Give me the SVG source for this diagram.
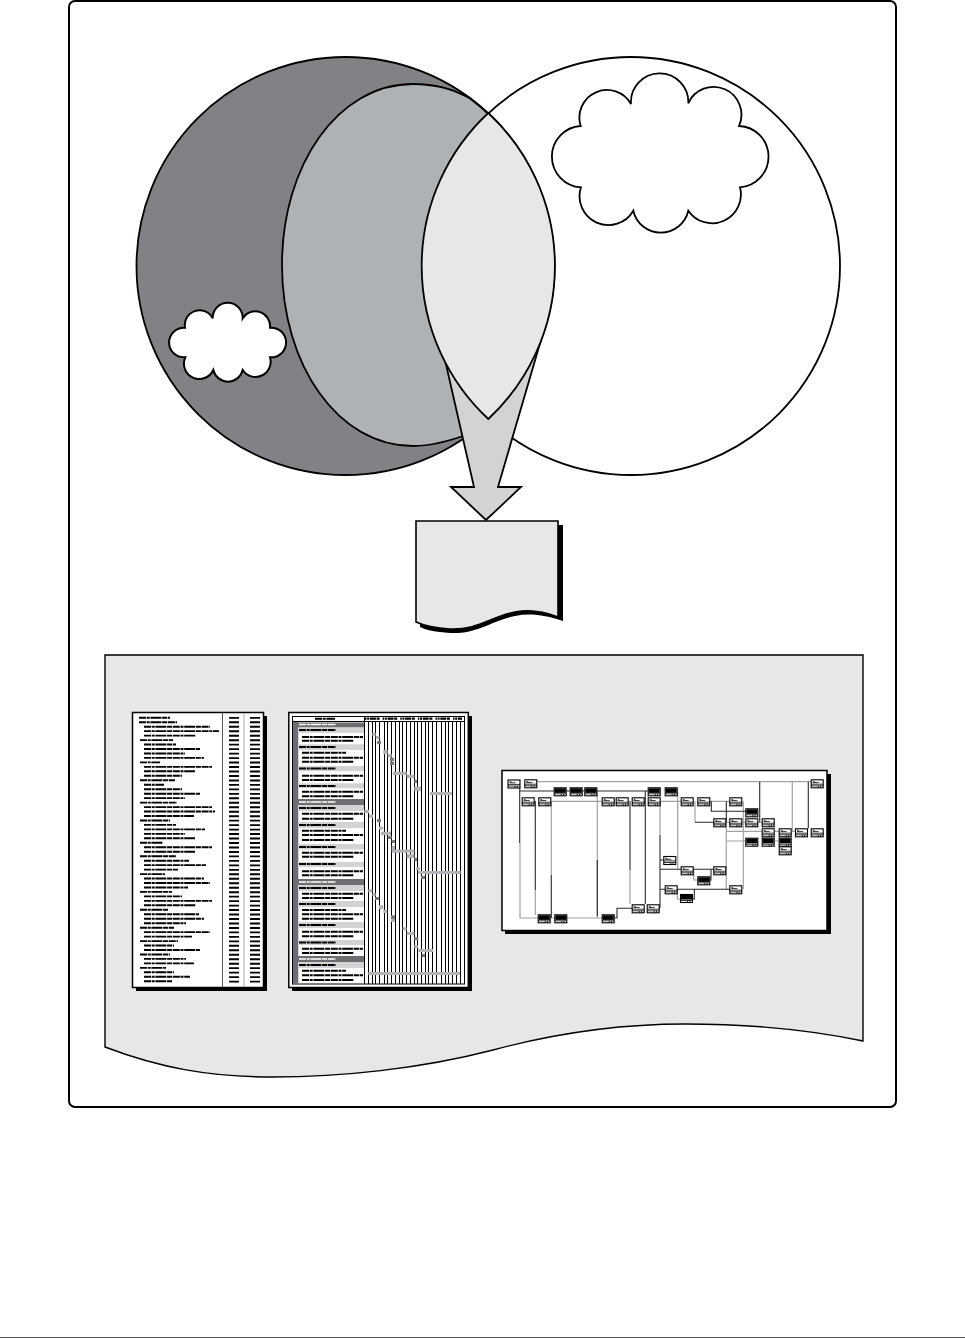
<svg xmlns="http://www.w3.org/2000/svg" width="965" height="1339" viewBox="0 0 965 1339">
<style>
.o{stroke:#000;stroke-width:1.8;stroke-linejoin:miter}
.k{stroke:#000;fill:none}
.sh{fill:#000}
.pg{fill:#fff;stroke:#000;stroke-width:1.5}
.bar{fill:none;stroke:#000;stroke-width:1.9;stroke-dasharray:7 .7 3 .7 11 .7 5 .7}
.lt{fill:#d1d3d4}.dk{fill:#6d6e71}
.gl{fill:#b1b3b6}.gd{fill:#77787b}
.cg{fill:none;stroke:#a0a2a5;stroke-width:1.2}
.cd{fill:none;stroke:#2b2b2b;stroke-width:1.1}
</style>
<defs>
<g id="na"><rect x=".5" y=".5" width="12" height="8" fill="#fff" stroke="#000" stroke-width="1.1"/><path d="M2 2.400h2M2 3.300h6M.5 4.900h12M.5 6.500h12M7.500 6.500v2M9.800 6.500v2" fill="none" stroke="#000" stroke-width=".8"/></g>
<g id="nb"><rect x=".5" y=".5" width="12" height="8" fill="#fff" stroke="#000" stroke-width="1.1"/><rect x="1" y="1" width="11" height="4.600" fill="#000"/><path d="M.5 6.500h12M7.500 6.500v2M9.800 6.500v2" fill="none" stroke="#000" stroke-width=".8"/></g>
</defs>
<rect width="965" height="1339" fill="#fff"/>
<rect id="frame" x="69" y="1" width="827" height="1106" rx="6" fill="#fff" stroke="#000" stroke-width="2"/>
<g id="venn">
<circle id="right-circle" class="o" cx="631" cy="266" r="209" fill="#fff"/>
<circle id="left-circle" class="o" cx="345.500" cy="266" r="209" fill="#808285"/>
<path id="inner-set" class="o" fill="#afb2b5" d="M470 98.500C452 88 432 84 413 84C338 84 282 165 282 265C282 365 338 446 413 446C432 446 450 441 470 433.500A209 209 0 0 0 470 98.500Z"/>
<path id="arrow" class="o" fill="#d1d3d4" d="M445 360L474 487H451L486 520L521 487H498L541 340Z"/>
<path id="lens" class="o" fill="#e6e7e8" d="M488.300 113A209 209 0 0 1 488.300 419A209 209 0 0 1 488.300 113Z"/>
</g>
<path id="cloud-large" class="o" fill="#fff" d="M580.700 126A27.600 27.600 0 0 1 631 104A28.700 28.700 0 1 1 688.300 103.300A27.600 27.600 0 0 1 739 126A30.700 30.700 0 0 1 740 187.300A28.800 28.800 0 0 1 688.300 210.700A28.200 28.200 0 0 1 633.300 210.700A28.800 28.800 0 0 1 581 187.300A30.700 30.700 0 0 1 580.700 126Z"/>
<path id="cloud-small" fill="#fff" stroke="#000" stroke-width="2" d="M185 327.700A14.800 14.800 0 0 1 212.700 318.300A15.010 15.010 0 1 1 242.700 318.300A14.800 14.800 0 0 1 270 327.700A14.850 14.850 0 1 1 270 357.300A15.200 15.200 0 0 1 242.700 370A15.100 15.100 0 0 1 213.300 370A15.200 15.200 0 0 1 185.300 357.300A14.850 14.850 0 1 1 185 327.700Z"/>
<g id="document">
<path class="sh" d="M420 525H563V621C545 615 530 613 515 616C490 621 478 634 450 633C436 632 425 630 420 627Z"/>
<path fill="#e6e7e8" stroke="#000" stroke-width="1.6" d="M416 521H558V617C545 612 530 609 515 612C490 617 478 630 450 629C436 628 425 626 416 622Z"/>
</g>
<path id="panel" fill="#e6e7e8" stroke="#000" stroke-width="1.4" d="M105 655H863V1041C810 1030 745 1024 685 1024C620 1024 560 1032 493 1050C420 1069 340 1077 272 1077C210 1077 160 1068 105 1047Z"/>
<g id="report-list">
<rect class="sh" x="136" y="716" width="131" height="275"/>
<rect class="pg" x="132.500" y="712.500" width="131" height="275"/>
<path d="M222.500 713V987" stroke="#58595b" fill="none"/>
<path d="M244 713V987" stroke="#a7a9ac" fill="none"/>
<path class="bar" d="M139 717.700h31M139 722.200h38M144 726.700h66M144 731.100h75M144 735.600h52M140 740.100h33M144 744.500h32M144 749h56M144 753.500h41M144 757.900h60M140 762.400h20M144 766.900h68M144 771.300h51M144 775.800h38M140 780.300h35M144 784.700h20M144 789.200h38M144 793.700h56M144 798.100h41M140 802.600h37M144 807.100h68M144 811.500h71M144 816h50M140 820.500h30M144 824.900h32M144 829.400h61M144 833.900h41M144 838.300h51M140 842.800h23M144 847.300h68M144 851.700h51M140 856.200h36M144 860.700h45M144 865.100h62M144 869.600h34M140 874.100h25M144 878.500h60M144 883h66M144 887.500h44M140 891.900h32M144 896.400h38M144 900.900h68M144 905.300h52M140 909.800h28M144 914.300h55M144 918.700h60M144 923.200h42M140 927.700h34M144 932.100h66M144 936.600h48M140 941.100h38M144 945.500h30M144 950h56M140 954.500h30M144 958.900h42M144 963.400h50M140 967.900h26M144 972.300h30M144 976.800h46M144 981.300h28"/>
<path d="M234 716.900V984" fill="none" stroke="#000" stroke-width="10" stroke-dasharray="1.900 2.570"/>
<path d="M255 716.900V984" fill="none" stroke="#000" stroke-width="10" stroke-dasharray="1.900 2.570"/>
</g>
<g id="gantt">
<rect class="sh" x="292" y="716" width="180" height="275"/>
<rect class="pg" x="288.800" y="712.500" width="179.500" height="275"/>
<rect x="292.500" y="716.500" width="172" height="267.500" fill="#fff" stroke="#000" stroke-width="1"/>
<rect class="dk" x="293" y="722" width="5.300" height="261.500"/>
<g class="dk"><rect x="293" y="722.500" width="71" height="5"/><rect x="293" y="799" width="71" height="6"/><rect x="293" y="879" width="71" height="6"/><rect x="293" y="956" width="71" height="6"/></g>
<g class="lt"><rect x="298.300" y="727.500" width="65.700" height="5.500"/><rect x="298.300" y="744.300" width="65.700" height="5.700"/><rect x="298.300" y="766" width="65.700" height="5.300"/><rect x="298.300" y="783.300" width="65.700" height="5"/><rect x="298.300" y="805" width="65.700" height="6"/><rect x="298.300" y="822" width="65.700" height="6"/><rect x="298.300" y="844" width="65.700" height="5.500"/><rect x="298.300" y="862" width="65.700" height="5"/><rect x="298.300" y="885" width="65.700" height="6"/><rect x="298.300" y="901" width="65.700" height="6"/><rect x="298.300" y="922" width="65.700" height="6"/><rect x="298.300" y="940" width="65.700" height="5"/><rect x="298.300" y="962" width="65.700" height="6"/></g>
<path class="bar" d="M315 718.700h20M302 737h61M302 740.700h52M302 752.700h44M302 757.700h61M302 761.700h52M302 775.700h61M302 780h52M302 791.700h61M302 796.300h52M302 813.700h61M302 818.700h52M302 830.700h44M302 835h61M302 840h52M302 852.700h61M302 856.700h52M302 871.300h61M302 875.300h52M302 893.700h61M302 898h52M302 910h44M302 914.300h61M302 918.700h52M302 931.700h61M302 936.300h52M302 948.700h61M302 953h52M302 970.700h44M302 975.300h61M302 980h52"/>
<path class="bar" d="M299 730h37M299 747h37M299 768.500h37M299 786h37M299 808h37M299 825h37M299 847h37M299 864h37M299 888h37M299 904h37M299 925h37M299 942.500h37M299 965h37"/>
<path d="M299 724.500h37M299 802h37M299 882h37M299 959h37" fill="none" stroke="#fff" stroke-width="1.600" stroke-dasharray="7 .7 3 .7 11 .7 5 .7"/>
<path class="k" stroke-width="1" d="M292.500 721.500H464.500"/>
<path fill="none" stroke="#000" stroke-width="2.200" stroke-dasharray="1.500 .7 2 .7 6 .7 3 3" d="M365 718.700H462"/>
<path class="k" stroke-width="1" d="M364.500 716.500V984M368.500 721V984M372.500 721V984M375.500 721V984M379.500 721V984M384.500 721V984M387.500 721V984M391.500 721V984M395.500 721V984M399.500 721V984M402.500 721V984M406.500 721V984M410.500 721V984M414.500 721V984M417.500 721V984M421.500 721V984M425.500 721V984M428.500 721V984M432.500 721V984M436.500 721V984M441.500 721V984M445.500 721V984M448.500 721V984M452.500 721V984M456.500 721V984M460.500 721V984"/>
<g class="gl"><rect x="372.300" y="733" width="3.400" height="2.700"/><rect x="375.700" y="736" width="3.700" height="3"/><rect x="383.300" y="750" width="4.300" height="4"/><rect x="387.700" y="754" width="4" height="3.300"/><rect x="393" y="771.700" width="13.700" height="3.300"/><rect x="406.700" y="774.700" width="7.700" height="3.300"/><rect x="414.300" y="786.700" width="6.700" height="4.300"/><rect x="430" y="792" width="21.700" height="3"/><rect x="364.300" y="810" width="4.700" height="3"/><rect x="369" y="814.700" width="4" height="3"/><rect x="379" y="826.700" width="4.300" height="3"/><rect x="381" y="831.700" width="10" height="3.300"/><rect x="391.700" y="845.700" width="3.300" height="4.300"/><rect x="391.700" y="849.700" width="22.700" height="3"/><rect x="406.700" y="854" width="7.700" height="4"/><rect x="416" y="867.300" width="4" height="2.700"/><rect x="418.300" y="871" width="42.300" height="3"/><rect x="368.300" y="889.300" width="4" height="2.700"/><rect x="372.300" y="893.300" width="3.400" height="2.700"/><rect x="379" y="905.300" width="4.300" height="3.700"/><rect x="383.300" y="910" width="4" height="3"/><rect x="391" y="919" width="4" height="3"/><rect x="402.700" y="927.300" width="4" height="2.700"/><rect x="406.700" y="932" width="7.700" height="3"/><rect x="414.300" y="945.300" width="4" height="2.700"/><rect x="418.300" y="949" width="15" height="3"/><rect x="368.300" y="972" width="91.700" height="3"/></g>
<g class="gd"><rect x="377" y="741" width="4" height="3"/><rect x="390" y="757.700" width="4" height="3.300"/><rect x="390" y="761.700" width="4" height="3.300"/><rect x="414.300" y="780" width="2.700" height="3"/><rect x="377" y="819" width="4" height="3"/><rect x="387.700" y="836" width="4" height="3"/><rect x="391.700" y="840" width="3.300" height="3"/><rect x="414.300" y="858" width="2.700" height="3"/><rect x="421" y="876" width="4" height="3"/><rect x="375" y="897" width="4.300" height="3"/><rect x="391" y="915.300" width="4" height="3.700"/><rect x="414.300" y="937.300" width="4" height="2.700"/><rect x="421.700" y="954" width="3.300" height="3"/></g>
</g>
<g id="network">
<rect class="sh" x="505" y="774" width="326" height="160"/>
<rect class="pg" x="502" y="770.500" width="325" height="160"/>
<g id="connectors">
<path class="cg" stroke-width="1.500" d="M536 781.700H811"/>
<path class="cg" d="M520 843V918H538M535.300 890V915M551.300 801.300V875M551.300 801.300H602M551.300 918H602M597.300 860V918H602M630 870V904M660 801.300V835M660 801.300H648M677.700 791.700V869M660 801.300H681M710 801.300H730M695 801.300V822.300M726.300 822V889.300M743.300 801.300V889.300M726 822.300H762M726.300 831.300H762M726.300 841H746M792.300 781.700V831M775 831.300H779M792 831.300H796M775 841H779M693.700 869V880H698M677.300 889.300V899H681M597.300 791V860"/>
<path class="cd" d="M520 791H554M566 791H570M582 791H584.500M597 791H648M519.700 787V843M535.300 801V890M551.300 875V918M597.300 860V916M615 918H617V908.300H632M630 801V870M645.300 791V904M660 835V908M660 860H664M660 869.300H681M660 889.300H665M695 822.300H714M711.300 801.300V811.300H746M726.300 801.300V822M759.700 781.700V822M808.300 781.700V828.300M693 869.300H714M711 869V880H710M677 889.300H730M694.300 889.300V899H692"/>
</g>
<g id="mini-nodes">
<use href="#na" x="507.500" y="779.500"/><use href="#na" x="524.300" y="779.300"/><use href="#na" x="810.700" y="779.300"/>
<use href="#nb" x="553.700" y="787.300"/><use href="#nb" x="569.700" y="787.300"/><use href="#nb" x="584.300" y="787.300"/><use href="#nb" x="647.700" y="787.300"/><use href="#nb" x="664.700" y="787.300"/>
<use href="#na" x="521.700" y="797.300"/><use href="#na" x="538.300" y="797.300"/><use href="#na" x="601.700" y="797.300"/><use href="#na" x="615.700" y="797.300"/><use href="#na" x="631.700" y="797.300"/><use href="#na" x="647.700" y="797.300"/><use href="#na" x="680.700" y="797.300"/><use href="#na" x="697.300" y="797.300"/><use href="#na" x="729.300" y="797.300"/>
<use href="#nb" x="745.300" y="808.300"/>
<use href="#na" x="713.300" y="818.300"/><use href="#na" x="729.300" y="818.300"/><use href="#na" x="745.300" y="818.300"/><use href="#na" x="761.700" y="818.300"/>
<use href="#na" x="761.700" y="828.300"/><use href="#na" x="778.700" y="828.300"/><use href="#na" x="795" y="828.300"/><use href="#na" x="810.700" y="828.300"/>
<use href="#nb" x="745.300" y="837.700"/><use href="#nb" x="761.700" y="837.700"/><use href="#nb" x="778.700" y="837.700"/>
<use href="#na" x="778.700" y="846.300"/><use href="#na" x="663.300" y="856"/><use href="#na" x="680.700" y="866.300"/><use href="#na" x="713.300" y="866.300"/>
<use href="#nb" x="697.300" y="876.300"/>
<use href="#na" x="664.700" y="885.300"/><use href="#na" x="729.300" y="885.300"/>
<use href="#nb" x="680" y="894"/>
<use href="#na" x="631.700" y="904.300"/><use href="#na" x="646.700" y="904.300"/>
<use href="#nb" x="537.700" y="914.300"/><use href="#nb" x="554.300" y="914.300"/><use href="#nb" x="601.700" y="914.300"/>
</g>
</g>
<path id="page-rule" d="M0 1337.500H965" stroke="#58595b" stroke-width="1" fill="none"/>
</svg>
